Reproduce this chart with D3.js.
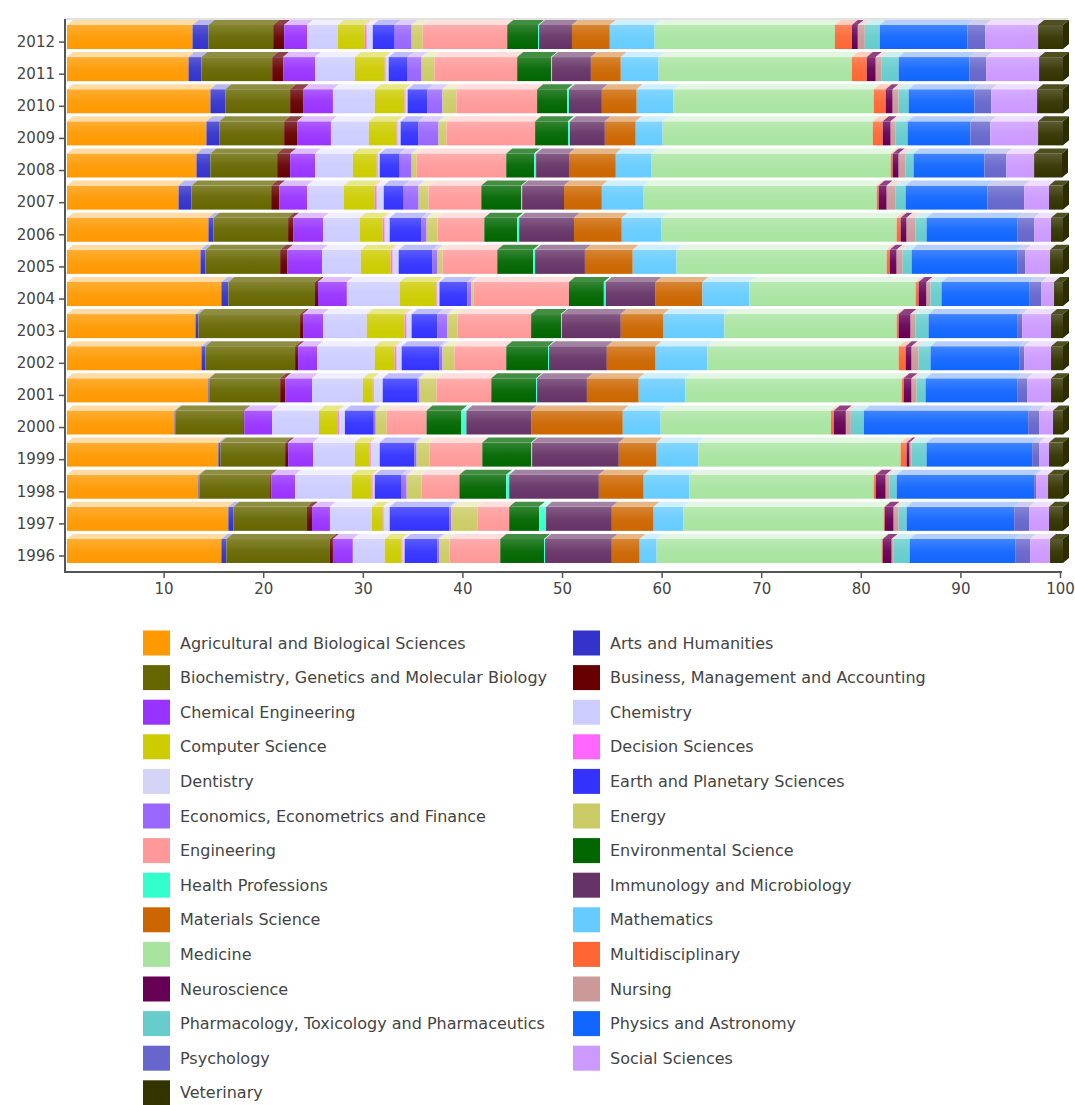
<!DOCTYPE html>
<html>
<head>
<meta charset="utf-8">
<script src="https://cdn.jsdelivr.net/npm/d3@7"></script>
<style>
  body { margin: 0; background: #fff; }
  text { font-family: "DejaVu Sans", Verdana, sans-serif; }
</style>
</head>
<body>
<div id="chart-area"></div>
<script>
// years, top to bottom
const years = ["2012","2011","2010","2009","2008","2007","2006","2005","2004",
               "2003","2002","2001","2000","1999","1998","1997","1996"];

const categories = [
  "Agricultural and Biological Sciences", "Arts and Humanities",
  "Biochemistry, Genetics and Molecular Biology", "Business, Management and Accounting",
  "Chemical Engineering", "Chemistry", "Computer Science", "Decision Sciences",
  "Dentistry", "Earth and Planetary Sciences", "Economics, Econometrics and Finance",
  "Energy", "Engineering", "Environmental Science", "Health Professions",
  "Immunology and Microbiology", "Materials Science", "Mathematics", "Medicine",
  "Multidisciplinary", "Neuroscience", "Nursing",
  "Pharmacology, Toxicology and Pharmaceutics", "Physics and Astronomy",
  "Psychology", "Social Sciences", "Veterinary"
];

const colors = [
  "#ff9900", "#3333cc", "#666600", "#660000", "#9933ff", "#ccccff", "#cccc00",
  "#ff66ff", "#d4d4f6", "#3333ff", "#9966ff", "#cccc66", "#ff9999", "#006600",
  "#33ffcc", "#663366", "#cc6600", "#66ccff", "#a8e4a0", "#ff6633", "#660055",
  "#cc9999", "#66cccc", "#1166ff", "#6666cc", "#cc99ff", "#333300"
];

// share of documents (%), one value per year in the order of `years`
const agricultural  = [12.6,12.2,14.4,14.0,13.0,11.2,14.2,13.4,15.5,12.9,13.5,14.2,10.8,15.2,13.2,16.2,15.5];
const arts          = [1.6,1.3,1.5,1.3,1.4,1.3,0.5,0.5,0.7,0.3,0.4,0.1,0.1,0.2,0.1,0.5,0.5];
const biochemistry  = [6.5,7.1,6.5,6.5,6.7,8.0,7.5,7.5,8.7,10.2,9.0,7.1,6.8,6.5,7.1,7.4,10.4];
const business      = [1.1,1.1,1.3,1.3,1.3,0.8,0.5,0.7,0.3,0.3,0.3,0.5,0.1,0.3,0.1,0.5,0.3];
const chemicalEng   = [2.3,3.2,3.0,3.4,2.5,2.8,3.0,3.5,2.9,2.0,1.9,2.7,2.8,2.5,2.4,1.8,2.0];
const chemistry     = [3.1,4.0,4.2,3.8,3.8,3.7,3.7,3.9,5.3,4.4,5.8,5.1,4.7,4.2,5.7,4.2,3.2];
const computerSci   = [2.7,3.0,3.0,2.8,2.4,3.1,2.3,3.0,3.7,3.8,2.0,1.0,1.9,1.5,2.0,1.1,1.7];
const decision      = [0.2,0.1,0.1,0.1,0.1,0.2,0.2,0.2,0.1,0.2,0.2,0.1,0.1,0.1,0.1,0.1,0.1];
const dentistry     = [0.6,0.3,0.2,0.3,0.2,0.7,0.5,0.6,0.2,0.5,0.5,0.9,0.6,0.9,0.2,0.6,0.2];
const earth         = [2.2,1.9,2.0,1.8,2.0,2.0,3.2,3.4,2.8,2.6,3.8,3.5,2.9,3.5,2.7,6.0,3.3];
const economics     = [1.7,1.4,1.5,2.0,1.2,1.5,0.5,0.5,0.4,1.0,0.3,0.2,0.2,0.2,0.5,0.2,0.2];
const energy        = [1.1,1.3,1.4,0.8,0.5,1.0,1.1,0.5,0.2,1.0,1.2,1.7,1.1,1.3,1.5,2.6,1.0];
const engineering   = [8.5,8.3,8.1,8.9,9.0,5.3,4.7,5.5,9.6,7.4,5.2,5.5,4.0,5.3,3.8,3.2,5.1];
const environmental = [3.1,3.4,3.0,3.3,2.8,4.0,3.3,3.6,3.5,3.0,4.2,4.5,3.5,4.9,4.7,3.0,4.4];
const health        = [0.1,0.1,0.2,0.2,0.2,0.1,0.2,0.2,0.2,0.1,0.1,0.1,0.5,0.1,0.3,0.7,0.1];
const immunology    = [3.3,3.9,3.3,3.5,3.3,4.2,5.5,5.0,5.0,5.9,5.8,5.0,6.5,8.7,9.0,6.6,6.7];
const materials     = [3.8,3.0,3.5,3.1,4.7,3.8,4.8,4.8,4.7,4.3,4.9,5.2,9.2,3.8,4.5,4.2,2.8];
const mathematics   = [4.5,3.8,3.7,2.7,3.6,4.2,4.0,4.4,4.7,6.1,5.2,4.7,3.8,4.2,4.6,3.0,1.7];
const medicine      = [18.1,19.4,20.1,21.1,24.0,23.4,23.6,21.1,16.7,17.3,19.2,21.7,17.1,20.3,18.5,20.1,22.6];
const multidisc     = [1.7,1.5,1.2,1.0,0.2,0.2,0.4,0.3,0.3,0.2,0.7,0.2,0.3,0.6,0.2,0.1,0.1];
const neuroscience  = [0.6,0.9,0.7,0.8,0.6,0.8,0.6,0.7,0.8,1.2,0.6,0.8,1.2,0.3,1.0,0.9,0.9];
const nursing       = [0.7,0.6,0.6,0.5,0.7,0.9,0.9,0.6,0.4,0.5,0.7,0.5,0.5,0.2,0.4,0.5,0.2];
const pharmacology  = [1.5,1.7,1.0,1.2,0.8,1.0,1.1,0.9,1.1,1.3,1.2,0.9,1.3,1.5,0.7,0.8,1.6];
const physics       = [8.8,7.1,6.6,6.3,7.1,8.2,9.1,10.6,8.8,8.9,8.9,9.2,16.5,10.6,13.8,10.8,10.6];
const psychology    = [1.8,1.7,1.7,2.0,2.2,3.7,1.7,0.8,1.2,0.5,0.5,1.0,1.1,0.7,0.2,1.5,1.5];
const social        = [5.3,5.3,4.6,4.8,2.8,2.5,1.7,2.5,1.3,2.9,2.7,2.4,1.4,1.0,1.2,2.0,2.0];
const veterinary    = [2.5,2.4,2.6,2.5,2.8,1.4,1.2,1.3,0.9,1.2,1.2,1.2,1.0,1.4,1.5,1.4,1.3];

const xTicks = [10,20,30,40,50,60,70,80,90,100];

const series = [agricultural, arts, biochemistry, business, chemicalEng, chemistry,
  computerSci, decision, dentistry, earth, economics, energy, engineering,
  environmental, health, immunology, materials, mathematics, medicine, multidisc,
  neuroscience, nursing, pharmacology, physics, psychology, social, veterinary];

// table for d3.stack
let rows = years.map((yr, i) => {
  let r = { year: yr };
  categories.forEach((c, k) => r[c] = series[k][i]);
  return r;
});

let color = d3.scaleOrdinal().domain(categories).range(colors);

let svg = d3.select("#chart-area")
  .append("svg")
    .attr("width", 1075)
    .attr("height", 1105);

// scales
let x = d3.scaleLinear().domain([0, 100]).range([64, 1060]);     // axis plane
let xBar = d3.scaleLinear().domain([0, 100]).range([67, 1063]);  // front face of bars
let y = d3.scaleBand().domain(years).range([26, 572.1]);

let depth = { dx: 6, dy: 5 };
let faceH = 24;

// lighter tint for top faces (dark colours stay dark)
function topColor(c) {
  let l = d3.hsl(c).l;
  return d3.interpolateRgb(c, "#fff")(Math.min(0.68, l * 1.3));
}

let stacked = d3.stack().keys(categories)(rows);

// gradient for a soft highlight on the front faces
let grad = svg.append("defs").append("linearGradient")
  .attr("id", "shine").attr("x1", 0).attr("y1", 0).attr("x2", 0).attr("y2", 1);
grad.append("stop").attr("offset", "0%").attr("stop-color", "#fff").attr("stop-opacity", 0.2);
grad.append("stop").attr("offset", "50%").attr("stop-color", "#fff").attr("stop-opacity", 0.05);
grad.append("stop").attr("offset", "100%").attr("stop-color", "#fff").attr("stop-opacity", 0);

// light top frame
svg.append("line")
  .attr("x1", 65).attr("x2", 1068).attr("y1", 19).attr("y2", 19)
  .attr("stroke", "#e2e2e2").attr("stroke-width", 2);

let bars = svg.append("g");

// front faces
bars.selectAll("g.front")
  .data(stacked)
  .join("g")
    .attr("class", "front")
    .attr("fill", (s) => color(s.key))
  .selectAll("rect")
  .data((s) => s)
  .join("rect")
    .attr("x", (d) => xBar(d[0]))
    .attr("y", (d) => y(d.data.year) - 1)
    .attr("width", (d) => Math.max(0, xBar(d[1]) - xBar(d[0])))
    .attr("height", faceH);

// highlight
bars.selectAll("rect.shine")
  .data(years)
  .join("rect")
    .attr("class", "shine")
    .attr("x", xBar(0))
    .attr("y", (yr) => y(yr) - 1)
    .attr("width", xBar(100) - xBar(0))
    .attr("height", faceH)
    .attr("fill", "url(#shine)");

// top faces
bars.selectAll("g.top")
  .data(stacked)
  .join("g")
    .attr("class", "top")
    .attr("fill", (s) => topColor(color(s.key)))
  .selectAll("path")
  .data((s) => s)
  .join("path")
    .attr("d", (d) => {
      let x0 = xBar(d[0]), x1 = xBar(d[1]), t = y(d.data.year) - 1;
      return `M${x0},${t}L${x0 + depth.dx},${t - depth.dy}L${x1 + depth.dx},${t - depth.dy}L${x1},${t}Z`;
    });

// side face of the last segment
let last = stacked[stacked.length - 1];
bars.selectAll("path.side")
  .data(last)
  .join("path")
    .attr("class", "side")
    .attr("fill", d3.color(color(last.key)).darker(0.4))
    .attr("d", (d) => {
      let x1 = xBar(d[1]), t = y(d.data.year) - 1;
      return `M${x1},${t}L${x1 + depth.dx},${t - depth.dy}L${x1 + depth.dx},${t + faceH - depth.dy}L${x1},${t + faceH}Z`;
    });

// axes
let yAxisCall = d3.axisLeft(y).tickSize(6).tickSizeOuter(0).tickPadding(4);
let yAxis = svg.append("g")
  .attr("class", "y-axis")
  .attr("transform", "translate(65, 0)")
  .call(yAxisCall);
yAxis.select(".domain").remove();

let xAxisCall = d3.axisBottom(x).tickValues(xTicks).tickSize(6).tickSizeOuter(0).tickPadding(5);
let xAxis = svg.append("g")
  .attr("class", "x-axis")
  .attr("transform", "translate(0, 572)")
  .call(xAxisCall);
xAxis.select(".domain").remove();

svg.append("line")
  .attr("x1", 65).attr("x2", 65).attr("y1", 19).attr("y2", 573)
  .attr("stroke", "#555").attr("stroke-width", 2);
svg.append("line")
  .attr("x1", 64).attr("x2", 1062).attr("y1", 572).attr("y2", 572)
  .attr("stroke", "#555").attr("stroke-width", 2);

svg.selectAll(".tick line").attr("stroke", "#555").attr("stroke-width", 1.5);
svg.selectAll(".tick text")
  .attr("font-size", "15px")
  .attr("fill", "#444")
  .style("font-family", "'DejaVu Sans', Verdana, sans-serif");

// legend, two columns
let legend = svg.append("g").attr("class", "legend");
let item = legend.selectAll("g")
  .data(categories)
  .join("g")
    .attr("transform", (c, i) => {
      let col = i % 2, row = Math.floor(i / 2);
      return `translate(${col ? 573 : 143}, ${643 + row * 34.6})`;
    });

item.append("rect")
  .attr("x", 0).attr("y", -12.5)
  .attr("width", 27).attr("height", 25)
  .attr("fill", (c) => color(c));

item.append("text")
  .attr("x", 37)
  .attr("y", 0)
  .attr("dy", "0.35em")
  .attr("font-size", "16px")
  .attr("fill", "#444")
  .text((c) => c);
</script>
</body>
</html>
